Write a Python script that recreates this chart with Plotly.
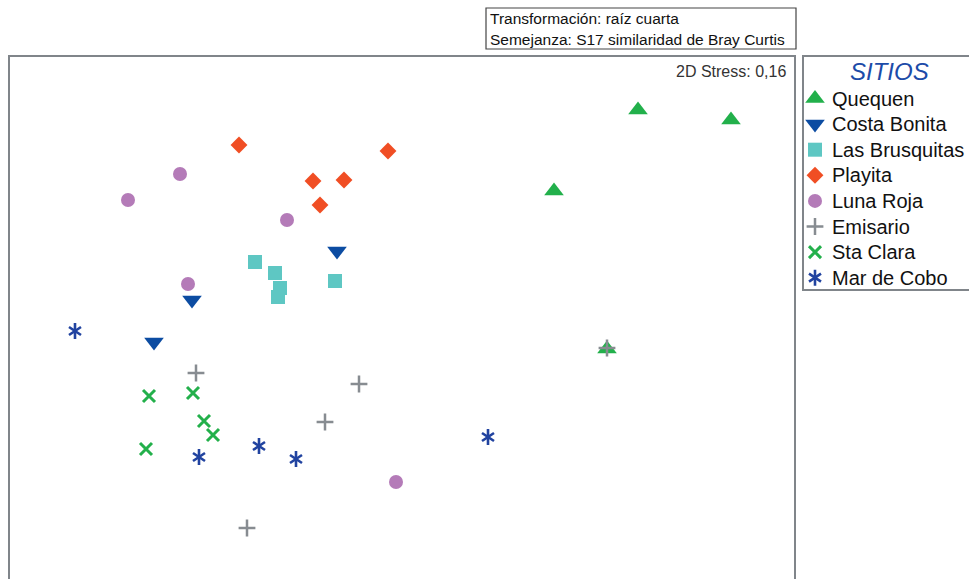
import plotly.graph_objects as go

# nMDS ordination coordinates per site (4th-root transform, Bray-Curtis S17)
sites = ["Quequen", "Costa Bonita", "Las Brusquitas", "Playita",
         "Luna Roja", "Emisario", "Sta Clara", "Mar de Cobo"]

quequen_x = [0.952, 1.324, 0.616, 0.828]
quequen_y = [0.832, 0.792, 0.508, -0.124]

costa_bonita_x = [-0.252, -0.832, -0.984]
costa_bonita_y = [0.268, 0.072, -0.096]

las_brusquitas_x = [-0.580, -0.500, -0.480, -0.488, -0.260]
las_brusquitas_y = [0.224, 0.180, 0.120, 0.084, 0.148]

playita_x = [-0.644, -0.048, -0.348, -0.224, -0.320]
playita_y = [0.692, 0.668, 0.548, 0.552, 0.452]

luna_roja_x = [-0.880, -1.088, -0.452, -0.848, -0.016]
luna_roja_y = [0.576, 0.472, 0.392, 0.136, -0.656]

emisario_x = [-0.816, -0.164, -0.300, -0.612, 0.828]
emisario_y = [-0.220, -0.264, -0.416, -0.840, -0.120]

sta_clara_x = [-1.004, -0.828, -0.784, -0.748, -1.016]
sta_clara_y = [-0.312, -0.300, -0.412, -0.468, -0.524]

mar_de_cobo_x = [-1.300, -0.564, -0.804, -0.416, 0.352]
mar_de_cobo_y = [-0.052, -0.512, -0.556, -0.564, -0.476]

stress_label = "2D Stress: 0,16"
info_lines = ["Transformación: raíz cuarta",
              "Semejanza: S17 similaridad de Bray Curtis"]
legend_title = "SITIOS"

xs = [quequen_x, costa_bonita_x, las_brusquitas_x, playita_x,
      luna_roja_x, emisario_x, sta_clara_x, mar_de_cobo_x]
ys = [quequen_y, costa_bonita_y, las_brusquitas_y, playita_y,
      luna_roja_y, emisario_y, sta_clara_y, mar_de_cobo_y]

# marker style per site: symbol layers, colour, size, line width
# (the six-armed asterisk is built from an upward and a downward "Y")
styles = [
    (["triangle-up"], "#22b04b", 17, 0),
    (["triangle-down"], "#0c4ca2", 17, 0),
    (["square"], "#5ec7c3", 14, 0),
    (["diamond"], "#f04e24", 13, 0),
    (["circle"], "#b47bb8", 14, 0),
    (["cross-thin-open"], "#878c91", 12, 2.5),
    (["x-thin-open"], "#23b04b", 12, 3),
    (["y-up-open", "y-down-open"], "#2143a0", 10, 2.6),
]

FONT = "Arial, 'Liberation Sans', sans-serif"
W, H = 969, 579

# pixel layout helpers (paper fractions)
def px(x):
    return x / W

def py(y):
    return 1 - y / H

fig = go.Figure()

for name, x, y, (syms, col, size, lw) in zip(sites, xs, ys, styles):
    for sym in syms:
        fig.add_trace(go.Scatter(
            x=x, y=y, mode="markers", name=name,
            marker=dict(symbol=sym, color=col, size=size,
                        line=dict(color=col, width=lw)),
            xaxis="x", yaxis="y", showlegend=False, hoverinfo="skip"))

# legend panel drawn on its own axes
row0, step = 42.5, 25.6
annotations = []
for i, (name, (syms, col, size, lw)) in enumerate(zip(sites, styles)):
    yy = row0 + step * i
    for sym in syms:
        fig.add_trace(go.Scatter(
            x=[12], y=[yy], mode="markers",
            marker=dict(symbol=sym, color=col, size=size,
                        line=dict(color=col, width=lw)),
            xaxis="x2", yaxis="y2", showlegend=False, hoverinfo="skip"))
    annotations.append(dict(
        x=26.5, y=yy, xref="x2", yref="y2", text=name, showarrow=False,
        xanchor="left", yanchor="middle",
        font=dict(family=FONT, size=20, color="#111111")))

annotations.append(dict(
    x=86, y=15, xref="x2", yref="y2", text=f"<i>{legend_title}</i>",
    showarrow=False, xanchor="center", yanchor="middle",
    font=dict(family=FONT, size=24, color="#1c4ba8")))

annotations.append(dict(
    x=px(788), y=py(71), xref="paper", yref="paper", text=stress_label,
    showarrow=False, xanchor="right", yanchor="middle",
    font=dict(family=FONT, size=16, color="#333333")))

for j, line in enumerate(info_lines):
    annotations.append(dict(
        x=px(488), y=py(19 + 20 * j), xref="paper", yref="paper", text=line,
        showarrow=False, xanchor="left", yanchor="middle",
        font=dict(family=FONT, size=15.5, color="#111111")))

frame = dict(color="#80858a", width=2)
shapes = [
    dict(type="rect", xref="paper", yref="paper",
         x0=px(9), x1=px(795), y0=-0.1, y1=py(56), line=frame),
    dict(type="rect", xref="paper", yref="paper",
         x0=px(803), x1=1.1, y0=py(290), y1=py(56), line=frame),
    dict(type="rect", xref="paper", yref="paper",
         x0=px(486), x1=px(796), y0=py(49), y1=py(8),
         line=dict(color="#444444", width=1.2)),
]

fig.update_layout(
    width=W, height=H,
    margin=dict(l=0, r=0, t=0, b=0, autoexpand=False),
    paper_bgcolor="white", plot_bgcolor="white",
    xaxis=dict(domain=[px(9), px(795)], range=[-1.564, 1.58],
               visible=False, fixedrange=True),
    yaxis=dict(domain=[0, py(56)], range=[-1.044, 1.048],
               visible=False, fixedrange=True),
    xaxis2=dict(domain=[px(803), 1], range=[0, 166],
                visible=False, fixedrange=True, anchor="y2"),
    yaxis2=dict(domain=[py(290), py(56)], range=[234, 0],
                visible=False, fixedrange=True, anchor="x2"),
    annotations=annotations,
    shapes=shapes,
    showlegend=False,
)

fig.write_html("out.html")
